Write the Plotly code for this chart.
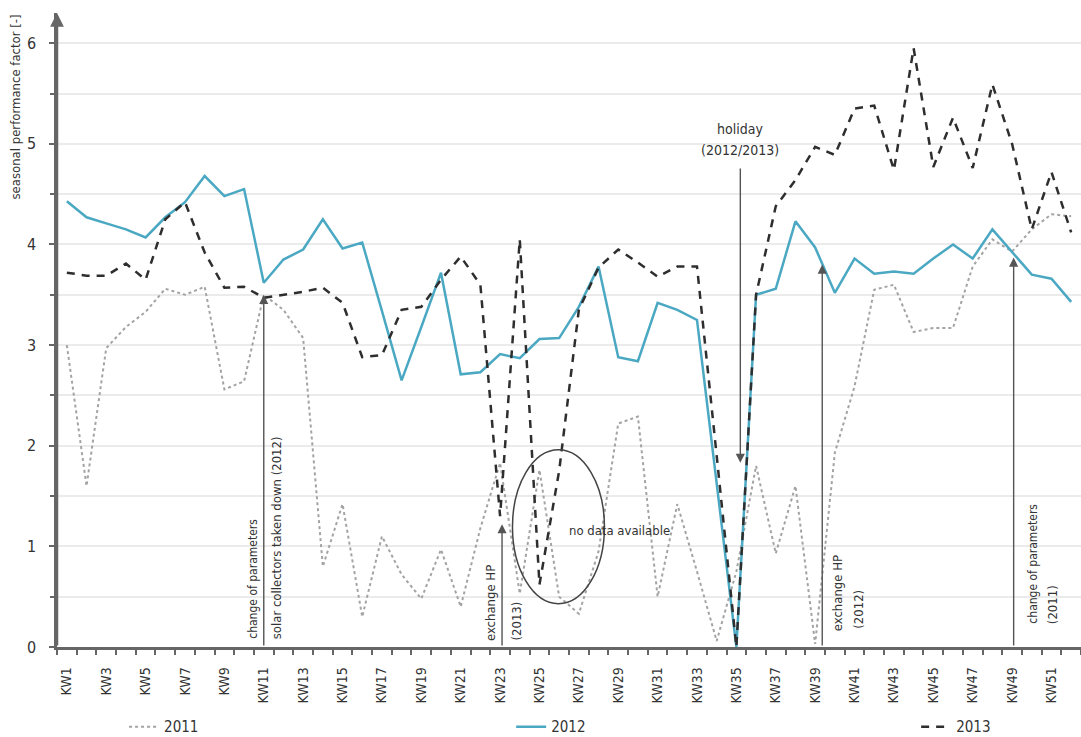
import plotly.graph_objects as go

# Calendar weeks
weeks = list(range(1, 53))
week_labels = [f"KW{w}" for w in weeks]

# Seasonal performance factor per calendar week
spf_2011 = [3.00, 1.60, 2.97, 3.18, 3.33, 3.56, 3.50, 3.58, 2.56, 2.64,
            3.50, 3.35, 3.07, 0.80, 1.42, 0.30, 1.10, 0.72, 0.48, 0.97,
            0.40, 1.18, 1.83, 0.53, 1.76, 0.50, 0.33, 0.95, 2.22, 2.29,
            0.50, 1.42, 0.75, 0.06, 0.75, 1.80, 0.93, 1.60, 0.03, 1.93,
            2.59, 3.55, 3.60, 3.13, 3.17, 3.17, 3.78, 4.05, 3.93, 4.15,
            4.30, 4.28]
spf_2012 = [4.43, 4.27, 4.21, 4.15, 4.07, 4.27, 4.42, 4.68, 4.48, 4.55,
            3.62, 3.85, 3.95, 4.25, 3.96, 4.02, 3.34, 2.65, 3.18, 3.72,
            2.71, 2.73, 2.91, 2.87, 3.06, 3.07, 3.38, 3.78, 2.88, 2.84,
            3.42, 3.35, 3.25, 1.62, 0.00, 3.50, 3.56, 4.23, 3.97, 3.52,
            3.86, 3.71, 3.73, 3.71, 3.86, 4.00, 3.86, 4.15, 3.93, 3.70,
            3.66, 3.43]
spf_2013 = [3.72, 3.69, 3.69, 3.81, 3.65, 4.25, 4.42, 3.92, 3.57, 3.58,
            3.47, 3.50, 3.53, 3.57, 3.42, 2.88, 2.90, 3.35, 3.38, 3.65,
            3.88, 3.60, 1.30, 4.05, 0.62, 1.75, 3.35, 3.77, 3.95, 3.82,
            3.68, 3.78, 3.78, 1.90, 0.00, 3.50, 4.38, 4.64, 4.97, 4.89,
            5.35, 5.38, 4.74, 5.95, 4.77, 5.26, 4.76, 5.59, 5.00, 4.15,
            4.72, 4.12]

FONT = "Liberation Sans Narrow, DejaVu Sans Condensed, Arial Narrow, sans-serif"
AX = "#666666"
TXT = "#333333"

fig = go.Figure()
fig.add_trace(go.Scatter(x=weeks, y=spf_2011, name="2011", mode="lines",
                         legend="legend",
                         line=dict(color="#a3a3a3", width=2, dash="3px,3px")))
fig.add_trace(go.Scatter(x=weeks, y=spf_2012, name="2012", mode="lines",
                         legend="legend2",
                         line=dict(color="#4ba8c3", width=2.5)))
fig.add_trace(go.Scatter(x=weeks, y=spf_2013, name="2013", mode="lines",
                         legend="legend3",
                         line=dict(color="#2e2e2e", width=2.5, dash="8px,7px")))

annotations = []

# y axis arrow head
annotations.append(dict(x=0.5, y=6.3, ax=0.5, ay=0, xref="x", yref="y",
                        axref="x", ayref="y", text="", showarrow=True,
                        arrowhead=2, arrowsize=1.1, arrowwidth=2.5,
                        arrowcolor=AX))

# y axis title near the top of the axis
annotations.append(dict(x=-0.041, y=1.0, xref="paper", yref="paper",
                        text="seasonal performance factor [-]", textangle=-90,
                        showarrow=False, xanchor="center", yanchor="top",
                        font=dict(family=FONT, size=13, color=TXT)))


def event_arrow(x, y_tail, y_head):
    annotations.append(dict(x=x, y=y_head, ax=x, ay=y_tail, xref="x", yref="y",
                            axref="x", ayref="y", text="", showarrow=True,
                            arrowhead=2, arrowsize=1.3, arrowwidth=1.4,
                            arrowcolor="#555555"))


def vertical_label(x, text, xshift, yshift, size=13):
    annotations.append(dict(x=x, y=0, xref="x", yref="y", text=text,
                            textangle=-90, showarrow=False, xanchor="center",
                            yanchor="bottom", xshift=xshift, yshift=yshift,
                            font=dict(family=FONT, size=size, color=TXT)))


# change of parameters / solar collectors (KW11)
event_arrow(11, 0, 3.5)
vertical_label(11, "change of parameters", -11, 6, 12)
vertical_label(11, "solar collectors taken down (2012)", 13, 6)

# exchange HP 2013 (KW23)
event_arrow(23.1, 0, 1.22)
vertical_label(23.1, "exchange HP", -12, 4)
vertical_label(23.1, "(2013)", 14, 4)

# exchange HP 2012 (KW39)
event_arrow(39.36, 0, 3.8)
vertical_label(39.36, "exchange HP", 15, 14)
vertical_label(39.36, "(2012)", 36, 16)

# change of parameters 2011 (KW49)
event_arrow(49.08, 0, 3.87)
vertical_label(49.08, "change of parameters", 19, 21, 12)
vertical_label(49.08, "(2011)", 39, 21)

# holiday (KW35)
event_arrow(35.2, 4.77, 1.83)
annotations.append(dict(x=35.2, y=5.15, xref="x", yref="y", text="holiday",
                        showarrow=False, xanchor="center", yanchor="middle",
                        font=dict(family=FONT, size=14, color=TXT)))
annotations.append(dict(x=35.2, y=4.94, xref="x", yref="y", text="(2012/2013)",
                        showarrow=False, xanchor="center", yanchor="middle",
                        font=dict(family=FONT, size=14, color=TXT)))

# missing data marker text
annotations.append(dict(x=26.38, y=1.16, xref="x", yref="y",
                        text="no data available", showarrow=False,
                        xanchor="left", yanchor="middle",
                        font=dict(family=FONT, size=13, color=TXT)))

legend_style = dict(orientation="h", y=-0.126, yanchor="middle",
                    xanchor="left", bgcolor="rgba(0,0,0,0)",
                    font=dict(family=FONT, size=15, color=TXT))

fig.update_layout(
    width=1081, height=737,
    margin=dict(l=57, r=0, t=13, b=90, autoexpand=False),
    paper_bgcolor="white", plot_bgcolor="white",
    font=dict(family=FONT, color=TXT),
    showlegend=True,
    legend=dict(x=0.0655, **legend_style),
    legend2=dict(x=0.4435, **legend_style),
    legend3=dict(x=0.839, **legend_style),
    annotations=annotations,
    shapes=[dict(type="circle", xref="x", yref="y", x0=23.63, x1=28.3,
                 y0=0.43, y1=1.96, line=dict(color="#444444", width=1.5))],
)

fig.update_xaxes(
    range=[0.5, 52.5], showgrid=False, zeroline=False, automargin=False,
    showline=True, linecolor=AX, linewidth=2.5,
    tickmode="array", tickvals=weeks[::2], ticktext=week_labels[::2],
    tickangle=-90, ticks="", ticklabelstandoff=12,
    tickfont=dict(family=FONT, size=14, color=TXT),
    minor=dict(tickmode="array", tickvals=[w - 0.5 for w in weeks] + [52.5],
               ticks="outside", ticklen=5, tickwidth=1.5, tickcolor=AX,
               showgrid=False),
)

fig.update_yaxes(
    range=[0, 6.3], zeroline=False, automargin=False,
    showline=True, linecolor=AX, linewidth=2.5,
    tickmode="array", tickvals=[0, 1, 2, 3, 4, 5, 6],
    ticks="outside", ticklen=5, tickwidth=1.5, tickcolor=AX,
    ticklabelstandoff=10,
    tickfont=dict(family=FONT, size=16, color=TXT),
    showgrid=True, gridcolor="#ebebeb", gridwidth=2,
    minor=dict(dtick=0.5, tick0=0, ticks="outside", ticklen=4, tickwidth=1.5,
               tickcolor=AX, showgrid=True, gridcolor="#ebebeb", gridwidth=2),
)

fig.write_html("out.html")
